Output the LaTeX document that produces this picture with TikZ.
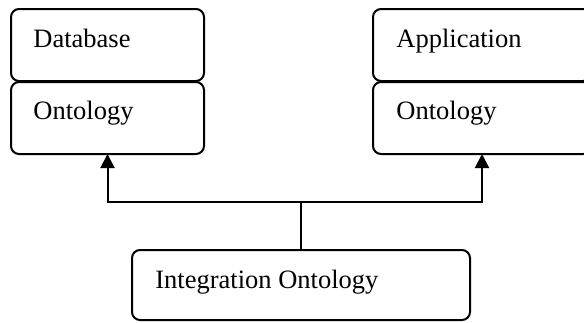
\documentclass[tikz,border=0pt]{standalone}
\usepackage{fontspec}
\setmainfont{Liberation Serif}
\usetikzlibrary{arrows.meta}
\begin{document}
\begin{tikzpicture}[x=0.5pt,y=-0.5pt,
  box/.style={draw,line width=1pt,rounded corners=4pt,inner sep=0pt,outer sep=0pt,
    minimum width=#1},
  lbl/.style={anchor=base west,inner sep=0pt,font=\fontsize{13.25pt}{15pt}\selectfont},
  conn/.style={line width=1pt},
  arr/.style={conn,-{Triangle[length=7pt,width=7pt]}}]
\useasboundingbox (0,0) rectangle (584,322);
\clip (0,0) rectangle (584,322);
\node[box=96.5pt,minimum height=36pt] (db) at (107.5,45) {};
\node[box=96.5pt,minimum height=36pt] (dbo) at (107.5,118) {};
\node[box=109pt,minimum height=36pt] (app) at (482,45) {};
\node[box=109pt,minimum height=36pt] (appo) at (482,118) {};
\node[box=169pt,minimum height=35pt] (int) at (301,285) {};
\node[lbl] (tdb) at (33,47) {Database};
\node[lbl] (tdbo) at (33,119) {Ontology};
\node[lbl] (tapp) at (396,47) {Application};
\node[lbl] (tappo) at (396,119) {Ontology};
\node[lbl] (tint) at (155,288) {Integration Ontology};
\coordinate (j) at (301,202);
\draw[conn] (int.north) -- (j);
\draw[arr] (j) -| (dbo.south);
\draw[arr] (j) -| (appo.south);
\end{tikzpicture}
\end{document}
